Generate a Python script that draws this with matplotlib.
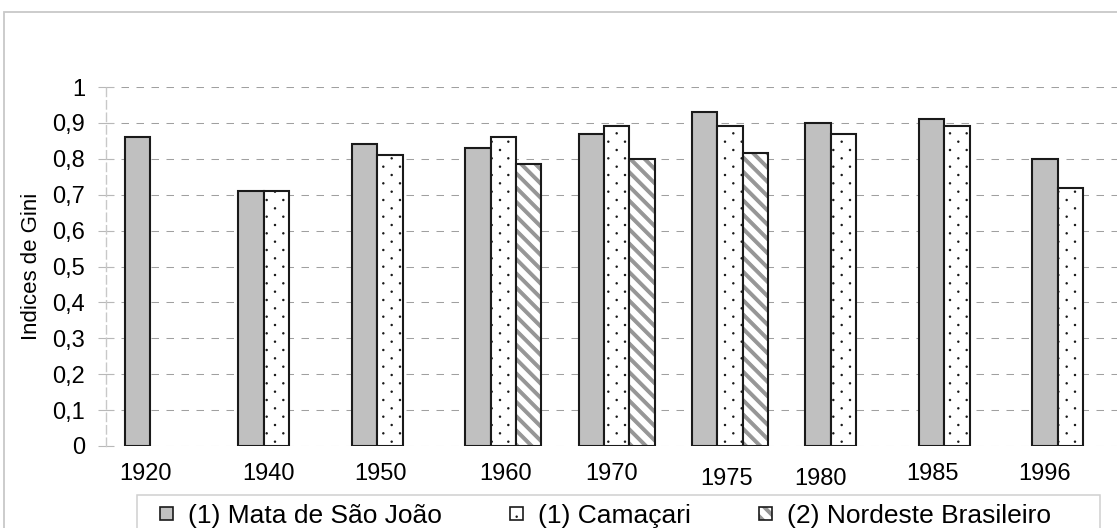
import numpy as np
import matplotlib
matplotlib.use("Agg")
import matplotlib.pyplot as plt
import matplotlib.hatch as mhatch
from matplotlib.path import Path
from matplotlib.patches import Patch, Rectangle
from matplotlib.transforms import blended_transform_factory, offset_copy

# ---------------- data ----------------
years = ["1920", "1940", "1950", "1960", "1970", "1975", "1980", "1985", "1996"]
series_names = ["(1) Mata de São João", "(1) Camaçari", "(2) Nordeste Brasileiro"]
mata_sao_joao = [0.86, 0.71, 0.84, 0.83, 0.87, 0.93, 0.90, 0.91, 0.80]
camacari = [np.nan, 0.71, 0.81, 0.86, 0.89, 0.89, 0.87, 0.89, 0.72]
nordeste = [np.nan, np.nan, np.nan, 0.785, 0.80, 0.815, np.nan, np.nan, np.nan]
y_ticks = [0, 0.1, 0.2, 0.3, 0.4, 0.5, 0.6, 0.7, 0.8, 0.9, 1.0]
y_tick_labels = ["0", "0,1", "0,2", "0,3", "0,4", "0,5", "0,6", "0,7", "0,8", "0,9", "1"]
y_title = "Indices de Gini"

# ---------------- layout (pixel offsets of year labels) ----------------
label_dx = [-18, -8, -9, 2, -5, -4, -23, -24, -26]
label_dy = [17, 17, 17, 17, 17, 22, 22, 17, 17]


# ---------------- custom hatch textures ----------------
class _StaggeredDots(mhatch.HatchPatternBase):
    def __init__(self, hatch, density):
        k = hatch.count('.')
        circ = Path.unit_circle()
        self.sv = circ.vertices
        self.sc = circ.codes
        self.centers = []
        if k:
            cols, rows = 6 * k, 12 * k
            for r in range(rows + 1):
                y = r / rows
                if r % 2 == 0:
                    xs = np.linspace(0, 1, cols + 1)
                else:
                    xs = (np.arange(cols) + 0.5) / cols
                self.centers += [(x, y) for x in xs]
        self.num_vertices = len(self.centers) * len(self.sv)

    def set_vertices_and_codes(self, vertices, codes):
        r = 0.0065
        np.concatenate([self.sv * r + np.array(c) for c in self.centers], out=vertices)
        np.concatenate([self.sc] * len(self.centers), out=codes)


class _ThickBackslash(mhatch.HatchPatternBase):
    def __init__(self, hatch, density):
        k = hatch.count('\\')
        self.bands = []
        if k:
            n = 7 * k
            self.bands = list(np.arange(-2, 2 * n + 3) / n)
        self.num_vertices = len(self.bands) * 5

    def set_vertices_and_codes(self, vertices, codes):
        w = 0.04
        parts = []
        for c in self.bands:
            parts.append([(-1, c - w / 2 + 1), (3, c - w / 2 - 3),
                          (3, c + w / 2 - 3), (-1, c + w / 2 + 1), (-1, c - w / 2 + 1)])
        vertices[:] = np.array(parts).reshape(-1, 2)
        codes[:] = np.tile([Path.MOVETO, Path.LINETO, Path.LINETO, Path.LINETO,
                            Path.CLOSEPOLY], len(self.bands))


def _handles_backslash(cls):
    try:
        return cls('\\', 6).num_vertices > 0
    except Exception:
        return False


mhatch._hatch_types = [t for t in mhatch._hatch_types
                       if t is not mhatch.SmallFilledCircles and not _handles_backslash(t)] \
    + [_StaggeredDots, _ThickBackslash]

plt.rcParams['font.family'] = ['Liberation Sans', 'DejaVu Sans']
plt.rcParams['hatch.linewidth'] = 0.8

W, H = 1117, 528
fig = plt.figure(figsize=(W / 100, H / 100), dpi=100)
ax = fig.add_axes([106.4 / W, (H - 446) / H, 1020.6 / W, 359 / H])

x = np.arange(len(years))
bw = 0.224
edge = '#1a1a1a'
gray = '#c0c0c0'
stripe = '#969696'

ax.bar(x - bw, mata_sao_joao, bw, color=gray, edgecolor=edge, linewidth=1.5, zorder=3)
ax.bar(x, camacari, bw, color='white', edgecolor=edge, hatch='.', linewidth=1.5, zorder=3)
ax.bar(x + bw, nordeste, bw, color='white', edgecolor=stripe, hatch='\\', linewidth=0, zorder=3)
ax.bar(x + bw, nordeste, bw, fill=False, edgecolor=edge, linewidth=1.5, zorder=4)

ax.set_xlim(-0.5, len(years) - 0.5)
ax.set_ylim(0, 1)
ax.set_yticks(y_ticks)
ax.set_yticklabels(y_tick_labels, fontsize=17)
ax.set_xticks([])
ax.tick_params(axis='y', direction='inout', length=11.5, width=0.8, color='#b8b8b8',
               pad=9.5, labelcolor='black')
ax.yaxis.grid(True, linestyle=(0, (7.2, 7.2)), color='#a0a0a0', linewidth=0.75, zorder=0)
ax.set_axisbelow(True)
for s in ['top', 'right', 'bottom']:
    ax.spines[s].set_visible(False)
ax.spines['left'].set_linestyle((0, (6, 3)))
ax.spines['left'].set_color('#c8c8c8')
ax.spines['left'].set_linewidth(1.0)

ax.set_ylabel(y_title, fontsize=16)
ax.yaxis.set_label_coords(-0.063, 0.5)

base = blended_transform_factory(ax.transData, ax.transAxes)
for i, lab in enumerate(years):
    tr = offset_copy(base, fig=fig, x=label_dx[i], y=-label_dy[i], units='dots')
    ax.text(x[i], 0, lab, transform=tr, ha='center', va='top', fontsize=17)

# legend
h1 = Patch(facecolor=gray, edgecolor=edge, linewidth=1.2)
h2 = Patch(facecolor='white', edgecolor=edge, hatch='.', linewidth=1.2)
h3 = (Patch(facecolor='white', edgecolor=stripe, hatch='\\', linewidth=0),
      Patch(fill=False, edgecolor=edge, linewidth=1.2))
ax.legend([h1, h2, h3], series_names, ncol=3, loc='upper left',
          bbox_to_anchor=(160 / W, 1 - 503.5 / H), bbox_transform=fig.transFigure,
          frameon=False, borderpad=0, borderaxespad=0, handlelength=0.49,
          handleheight=0.38, handletextpad=0.57, columnspacing=2.58, fontsize=19)

# legend frame and outer chart frame
fig.add_artist(Rectangle((137 / W, -0.2), (1100 - 137) / W, 0.2 + (H - 495) / H,
                         transform=fig.transFigure, fill=False, edgecolor='#d0d0d0',
                         linewidth=1.1))
fig.add_artist(Rectangle((4 / W, -0.2), 1.2, 0.2 + (H - 12) / H,
                         transform=fig.transFigure, fill=False, edgecolor='#c8c8c8',
                         linewidth=1.3))

fig.savefig("out.png", dpi=100)
